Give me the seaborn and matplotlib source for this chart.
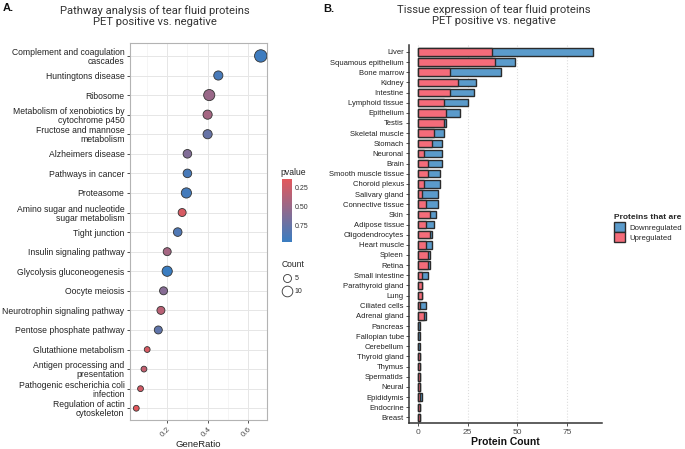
import numpy as np
import pandas as pd
import matplotlib
matplotlib.use("Agg")
import matplotlib.pyplot as plt
import seaborn as sns
from matplotlib.colors import LinearSegmentedColormap, Normalize
from matplotlib.lines import Line2D
from matplotlib.patches import Patch
from matplotlib.ticker import MultipleLocator

# panel A data
pathways = ["Complement and coagulation\ncascades", "Huntingtons disease", "Ribosome",
            "Metabolism of xenobiotics by\ncytochrome p450", "Fructose and mannose\nmetabolism",
            "Alzheimers disease", "Pathways in cancer", "Proteasome",
            "Amino sugar and nucleotide\nsugar metabolism", "Tight junction",
            "Insulin signaling pathway", "Glycolysis gluconeogenesis", "Oocyte meiosis",
            "Neurotrophin signaling pathway", "Pentose phosphate pathway",
            "Glutathione metabolism", "Antigen processing and\npresentation",
            "Pathogenic escherichia coli\ninfection", "Regulation of actin\ncytoskeleton"]
gene_ratio = [0.663, 0.453, 0.408, 0.40, 0.40, 0.30, 0.30, 0.295, 0.274, 0.252,
              0.20, 0.20, 0.182, 0.169, 0.156, 0.101, 0.085, 0.068, 0.047]
counts = [14, 7, 11, 7, 7, 6, 6, 9, 5, 6, 5, 9, 5, 5, 5, 2, 2, 2, 2]
pvalues = [0.95, 0.90, 0.50, 0.45, 0.75, 0.62, 0.90, 0.92, 0.20, 0.86,
           0.45, 0.97, 0.60, 0.35, 0.78, 0.20, 0.30, 0.22, 0.14]

# panel B data
tissues = ["Liver", "Squamous epithelium", "Bone marrow", "Kidney", "Intestine",
           "Lymphoid tissue", "Epithelium", "Testis", "Skeletal muscle", "Stomach",
           "Neuronal", "Brain", "Smooth muscle tissue", "Choroid plexus", "Salivary gland",
           "Connective tissue", "Skin", "Adipose tissue", "Oligodendrocytes", "Heart muscle",
           "Spleen", "Retina", "Small intestine", "Parathyroid gland", "Lung",
           "Ciliated cells", "Adrenal gland", "Pancreas", "Fallopian tube", "Cerebellum",
           "Thyroid gland", "Thymus", "Spermatids", "Neural", "Epididymis", "Endocrine", "Breast"]
upregulated = [37, 39, 16, 20, 16, 13, 14, 13, 8, 7, 3, 5, 5, 3, 2, 4, 6, 4, 6, 4,
               5, 5, 2, 2, 2, 1, 3, 0, 0, 0, 1, 1, 1, 1, 1, 1, 1]
downregulated = [51, 10, 26, 9, 12, 12, 7, 1, 5, 5, 9, 7, 6, 8, 8, 6, 3, 4, 1, 3,
                 1, 1, 3, 0, 0, 3, 1, 1, 1, 1, 0, 0, 0, 0, 1, 0, 0]

RED = "#E3585C"
BLUE = "#3A7DC1"
UP_COL = "#F46C7A"
DOWN_COL = "#5B9BCB"

sns.set_style("white")
plt.rcParams["font.family"] = ["Liberation Sans", "DejaVu Sans"]

fig = plt.figure(figsize=(6.85, 4.49), dpi=100)

# ---------------- panel A ----------------
dfa = pd.DataFrame({"pathway": pathways, "GeneRatio": gene_ratio,
                    "Count": counts, "pvalue": pvalues})
cmap = LinearSegmentedColormap.from_list("pv", [RED, BLUE])
pnorm = Normalize(vmin=min(pvalues), vmax=max(pvalues))
size_range = (17.6, 79.8)

axa = fig.add_axes([0.1898, 0.0646, 0.2, 0.8396])
sns.scatterplot(data=dfa, x="GeneRatio", y="pathway", hue="pvalue", palette=cmap,
                hue_norm=pnorm, size="Count", sizes=size_range, size_norm=(2, 14),
                edgecolor="#333333", linewidth=0.6, legend=False, ax=axa, zorder=3)
axa.set_xlim(0.016, 0.694)
axa.set_ylim(len(pathways) - 0.4, -0.66)
axa.xaxis.set_minor_locator(MultipleLocator(0.1))
axa.set_xticks([0.2, 0.4, 0.6])
axa.set_xticklabels(["0.2", "0.4", "0.6"], rotation=45, ha="right",
                    rotation_mode="anchor", fontsize=5.8, color="#4D4D4D")
axa.grid(True, which="major", color="#E6E6E6", linewidth=0.7, zorder=0)
axa.grid(True, which="minor", axis="x", color="#F2F2F2", linewidth=0.5, zorder=0)
axa.set_axisbelow(True)
for s in axa.spines.values():
    s.set_color("#B3B3B3")
    s.set_linewidth(0.8)
axa.tick_params(axis="y", length=2.5, width=0.6, color="#333333", labelsize=6.2,
                labelcolor="#222222", pad=1.5, left=True)
axa.tick_params(axis="x", length=2.5, width=0.6, color="#333333", pad=1.5, bottom=True)
for t in axa.get_yticklabels():
    t.set_linespacing(1.0)
axa.set_xlabel("GeneRatio", fontsize=6.8, color="#222222", va="center")
axa.xaxis.set_label_coords(0.5, -0.066)
axa.set_ylabel("")

fig.text(155 / 685, 1 - 16 / 449, "Pathway analysis of tear fluid proteins\nPET positive vs. negative",
         ha="center", va="center", fontsize=8.1, family=["Roboto", "DejaVu Sans"],
         color="#333333", linespacing=1.2)
fig.text(3 / 685, 1 - 8 / 449, "A.", ha="left", va="center", fontsize=8,
         fontweight="bold", color="#111111")

# pvalue colourbar
cax = fig.add_axes([282 / 685, 1 - 242 / 449, 10 / 685, 63 / 449])
sm = plt.cm.ScalarMappable(norm=pnorm, cmap=cmap)
cb = fig.colorbar(sm, cax=cax, ticks=[0.25, 0.5, 0.75])
cb.outline.set_visible(False)
cax.invert_yaxis()
cax.tick_params(length=2, width=0.6, color="white", labelsize=5, labelcolor="#333333",
                pad=2, direction="in")
cax.set_yticklabels(["0.25", "0.50", "0.75"])
fig.text(280 / 685, 1 - 172 / 449, "pvalue", ha="left", va="center", fontsize=6.2,
         color="#222222")

# Count legend
handles = [Line2D([], [], linestyle="none", marker="o", markerfacecolor="none",
                  markeredgecolor="#333333", markeredgewidth=0.6,
                  markersize=np.sqrt(size_range[0] + (c - 2) / 12 * (size_range[1] - size_range[0])))
           for c in [5, 10]]
leg = fig.legend(handles, ["5", "10"], title="Count", loc="upper left",
                 bbox_to_anchor=(277 / 685, 1 - 255 / 449), frameon=False,
                 fontsize=5, title_fontsize=6.2, handletextpad=0.4, labelspacing=0.9,
                 borderpad=0.2, handlelength=1.4)
leg._legend_box.align = "left"

# ---------------- panel B ----------------
dfb = pd.DataFrame({"Tissue": tissues, "Upregulated": upregulated,
                    "Downregulated": downregulated})
dfb["Total"] = dfb["Upregulated"] + dfb["Downregulated"]

axb = fig.add_axes([0.597, 0.0579, 0.2818, 0.8419])
sns.barplot(data=dfb, x="Total", y="Tissue", orient="h", color=DOWN_COL, saturation=1,
            edgecolor="#2B2B2B", linewidth=1.0, width=0.74, ax=axb, zorder=3)
sns.barplot(data=dfb, x="Upregulated", y="Tissue", orient="h", color=UP_COL, saturation=1,
            edgecolor="#2B2B2B", linewidth=1.0, width=0.74, ax=axb, zorder=4)
axb.set_xlim(-4.4, 92.4)
axb.set_ylim(len(tissues) - 0.45, -0.68)
axb.set_xticks([0, 25, 50, 75])
axb.grid(True, axis="x", color="#DDDDDD", linestyle=":", linewidth=0.8, zorder=0)
axb.set_axisbelow(True)
sns.despine(ax=axb)
for s in ["left", "bottom"]:
    axb.spines[s].set_color("#333333")
    axb.spines[s].set_linewidth(1.1)
axb.tick_params(axis="y", length=2.5, width=0.6, color="#333333", labelsize=5.5,
                labelcolor="#222222", pad=1.2, left=True)
axb.tick_params(axis="x", length=2.5, width=0.6, color="#333333", labelsize=6,
                labelcolor="#4D4D4D", pad=1.5, bottom=True)
axb.set_xlabel("Protein Count", fontsize=7.5, fontweight="bold", color="#111111", labelpad=1)
axb.set_ylabel("")

fig.text(494 / 685, 1 - 15 / 449, "Tissue expression of tear fluid proteins\nPET positive vs. negative",
         ha="center", va="center", fontsize=8.1, family=["Roboto", "DejaVu Sans"],
         color="#333333", linespacing=1.2)
fig.text(323 / 685, 1 - 9 / 449, "B.", ha="left", va="center", fontsize=8,
         fontweight="bold", color="#111111")

bhandles = [Patch(facecolor=DOWN_COL, edgecolor="#2B2B2B", linewidth=1.0),
            Patch(facecolor=UP_COL, edgecolor="#2B2B2B", linewidth=1.0)]
legb = fig.legend(bhandles, ["Downregulated", "Upregulated"], title="Proteins that are",
                  loc="upper left", bbox_to_anchor=(609 / 685, 1 - 209 / 449), frameon=False,
                  fontsize=5.6, title_fontproperties={"weight": "bold", "size": 6.0},
                  handlelength=1.3, handleheight=1.5, handletextpad=0.6, labelspacing=0.1,
                  borderpad=0.2)
legb._legend_box.align = "left"

fig.savefig("out.png", dpi=100)
